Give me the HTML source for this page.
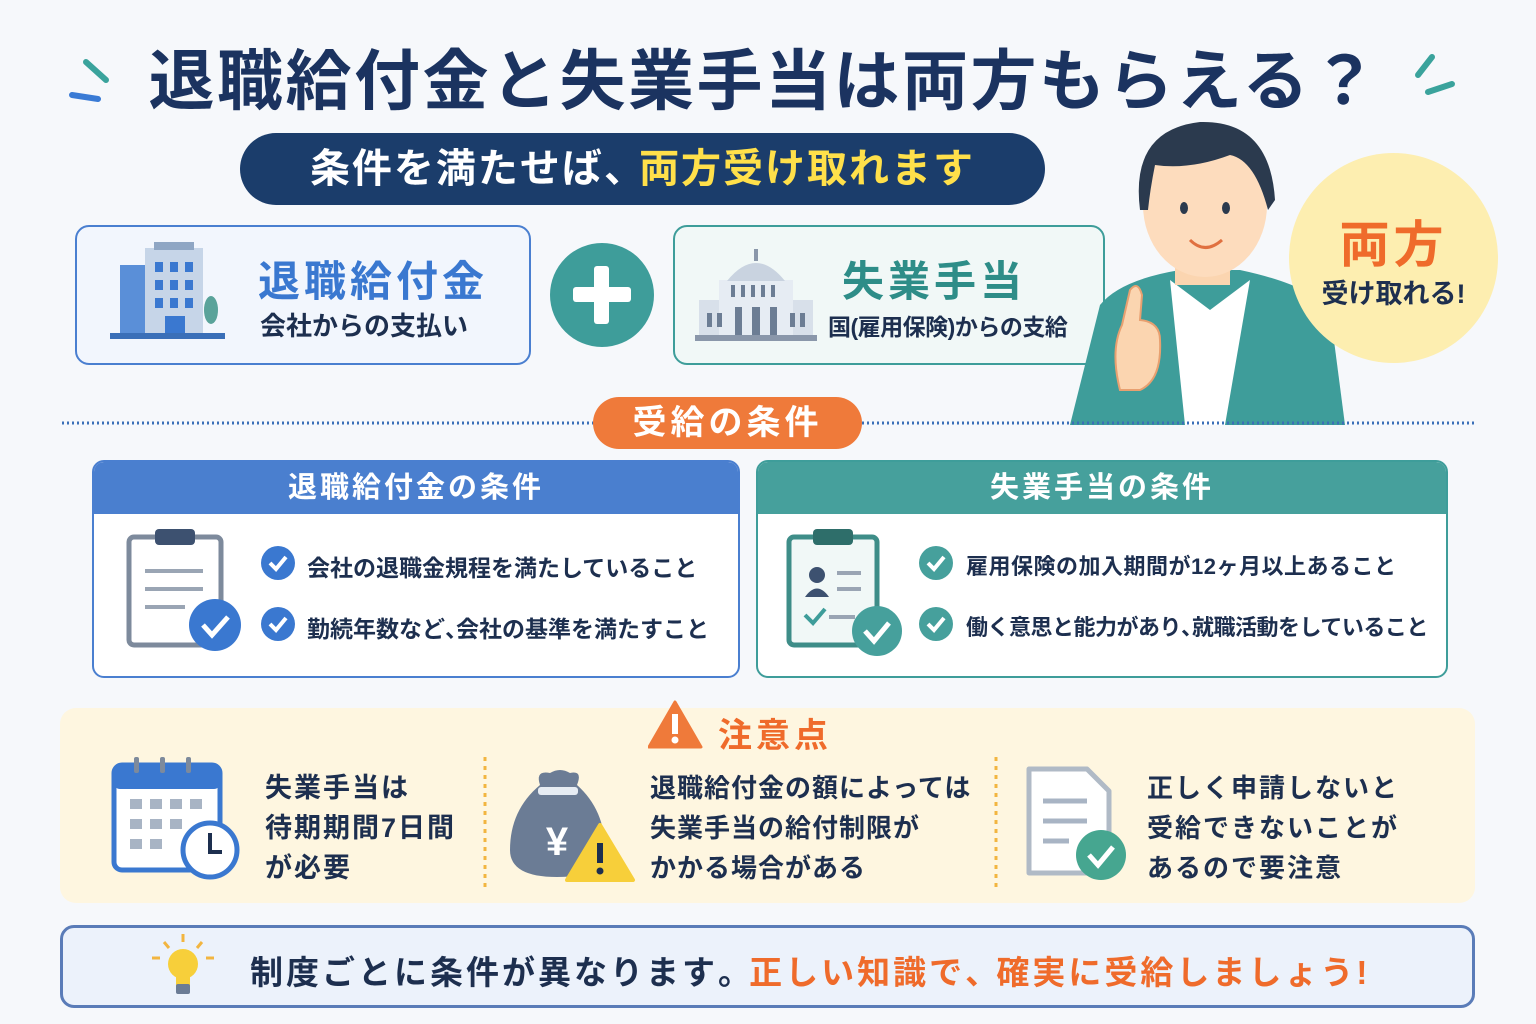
<!DOCTYPE html>
<html><head><meta charset="utf-8"><style>
*{margin:0;padding:0;box-sizing:border-box}
body{width:1536px;height:1024px;background:#f6f8fb;font-family:"Liberation Sans","Noto Sans CJK JP",sans-serif;position:relative;overflow:hidden;color:#1d2f4f}
.a{position:absolute}
.t{font-weight:bold;white-space:nowrap}
</style></head><body>
<div class="a t" style="left:-4px;width:1536px;top:28px;text-align:center;font-size:66px;color:#1b3360;letter-spacing:2.5px">退職給付金と失業手当は両方もらえる？</div>
<svg class="a" style="left:0;top:0" width="1536" height="120">
<line x1="86" y1="62" x2="106" y2="80" stroke="#3aa39c" stroke-width="6" stroke-linecap="round"/>
<line x1="72" y1="95" x2="98" y2="99" stroke="#3a7bd5" stroke-width="6" stroke-linecap="round"/>
<line x1="1418" y1="75" x2="1432" y2="57" stroke="#3aa39c" stroke-width="6" stroke-linecap="round"/>
<line x1="1428" y1="92" x2="1452" y2="84" stroke="#3aa39c" stroke-width="6" stroke-linecap="round"/>
</svg>
<div class="a t" style="left:240px;top:133px;width:805px;height:72px;border-radius:36px;background:#1b3d6b;color:#fff;font-size:40px;line-height:72px;text-align:center;letter-spacing:2px">条件を満たせば<span style="letter-spacing:-18px">、</span> <span style="color:#ffe04a">両方受け取れます</span></div>

<div class="a" style="left:75px;top:225px;width:456px;height:140px;border:2px solid #4a7fd0;border-radius:14px;background:#f2f6fd"></div>
<svg class="a" style="left:110px;top:240px" width="120" height="105">
<rect x="10" y="25" width="28" height="70" fill="#5a8fd8"/><rect x="35" y="8" width="58" height="87" fill="#c6d5e8"/><rect x="44" y="2" width="40" height="8" fill="#8fa6c4"/>
<g fill="#3a78d0"><rect x="45" y="22" width="8" height="10"/><rect x="60" y="22" width="8" height="10"/><rect x="75" y="22" width="8" height="10"/><rect x="45" y="40" width="8" height="10"/><rect x="60" y="40" width="8" height="10"/><rect x="75" y="40" width="8" height="10"/><rect x="45" y="58" width="8" height="10"/><rect x="60" y="58" width="8" height="10"/><rect x="75" y="58" width="8" height="10"/><rect x="55" y="76" width="20" height="19"/></g>
<ellipse cx="101" cy="70" rx="7" ry="14" fill="#5aa39a"/><rect x="0" y="93" width="115" height="6" fill="#3a6fb8"/></svg>
<div class="a t" style="left:258px;top:248px;font-size:42px;color:#3a78d0;letter-spacing:4px">退職給付金</div>
<div class="a t" style="left:260px;top:306px;font-size:26px;color:#1d2f4f">会社からの支払い</div>

<div class="a" style="left:550px;top:243px;width:104px;height:104px;border-radius:50%;background:#3e9d9a"></div>
<div class="a" style="left:573px;top:287px;width:58px;height:15px;background:#fff;border-radius:3px"></div>
<div class="a" style="left:594px;top:266px;width:15px;height:58px;background:#fff;border-radius:3px"></div>

<div class="a" style="left:673px;top:225px;width:432px;height:140px;border:2px solid #3e9d9a;border-radius:14px;background:#f1f8f7"></div>
<svg class="a" style="left:695px;top:245px" width="125" height="100">
<rect x="4" y="55" width="114" height="36" fill="#d8e0ea"/><rect x="24" y="35" width="74" height="56" fill="#e6ecf3"/>
<path d="M32 36 Q61 0 90 36Z" fill="#c9d3e0"/><rect x="59" y="4" width="4" height="12" fill="#8a97aa"/>
<g fill="#6c7d94"><rect x="36" y="40" width="4" height="12"/><rect x="46" y="40" width="4" height="12"/><rect x="56" y="40" width="4" height="12"/><rect x="66" y="40" width="4" height="12"/><rect x="76" y="40" width="4" height="12"/><rect x="12" y="68" width="5" height="14"/><rect x="22" y="68" width="5" height="14"/><rect x="95" y="68" width="5" height="14"/><rect x="105" y="68" width="5" height="14"/><rect x="40" y="62" width="7" height="28"/><rect x="57" y="62" width="8" height="28"/><rect x="75" y="62" width="7" height="28"/></g>
<rect x="0" y="90" width="122" height="6" fill="#8a97aa"/></svg>
<div class="a t" style="left:842px;top:248px;font-size:42px;color:#2e8d88;letter-spacing:4px">失業手当</div>
<div class="a t" style="left:828px;top:308px;font-size:23px;color:#1d2f4f;letter-spacing:-0.5px">国(雇用保険)からの支給</div>

<svg class="a" style="left:1060px;top:110px" width="300" height="320">
<path d="M10 315 L40 195 Q60 170 120 160 L180 160 Q250 175 270 200 L285 315Z" fill="#3e9d9a"/>
<path d="M110 170 L150 200 L190 170 L165 315 L125 315Z" fill="#fff"/>
<rect x="115" y="125" width="55" height="50" fill="#fbd5b0"/>
<ellipse cx="145" cy="95" rx="62" ry="72" fill="#fddcbd"/>
<path d="M80 100 Q70 20 140 12 Q210 10 215 90 L208 100 Q195 50 170 45 Q130 60 95 55 Q90 80 88 100Z" fill="#2b3a4e"/>
<ellipse cx="124" cy="98" rx="4" ry="6" fill="#2b3a4e"/><ellipse cx="166" cy="98" rx="4" ry="6" fill="#2b3a4e"/>
<path d="M130 130 Q145 145 162 130" stroke="#e07040" stroke-width="3" fill="none"/>
<path d="M60 280 Q50 240 62 215 L70 180 Q78 170 82 185 L80 210 Q100 212 100 230 Q102 270 80 280Z" fill="#fbd5b0" stroke="#e8a070" stroke-width="2"/>
</svg>

<div class="a" style="left:1289px;top:153px;width:209px;height:210px;border-radius:50%;background:#fdeeb0"></div>
<div class="a t" style="left:1289px;width:209px;top:205px;text-align:center;font-size:50px;color:#ef6b2b;letter-spacing:4px">両方</div>
<div class="a t" style="left:1289px;width:209px;top:272px;text-align:center;font-size:27px;color:#1d2f4f;letter-spacing:0px">受け取れる!</div>

<svg class="a" style="left:0;top:418px" width="1536" height="10"><line x1="62" y1="5" x2="1475" y2="5" stroke="#3a6fb8" stroke-width="3" stroke-dasharray="2 3"/></svg>
<div class="a t" style="left:593px;top:397px;width:269px;height:52px;border-radius:26px;background:#ef7a3a;color:#fff;font-size:34px;line-height:52px;text-align:center;letter-spacing:4px">受給の条件</div>

<div class="a" style="left:92px;top:460px;width:648px;height:218px;border:2px solid #4a7fd0;border-radius:12px;background:#fff;overflow:hidden">
<div style="height:52px;background:#4a7fcf;color:#fff;font-size:29px;font-weight:bold;text-align:center;line-height:52px;letter-spacing:3px">退職給付金の条件</div></div>
<svg class="a" style="left:125px;top:525px" width="120" height="130">
<rect x="4" y="12" width="92" height="108" rx="5" fill="#fff" stroke="#7d8a9c" stroke-width="5"/>
<rect x="30" y="4" width="40" height="16" rx="4" fill="#3d5170"/>
<g stroke="#9aa5b4" stroke-width="4"><line x1="20" y1="46" x2="78" y2="46"/><line x1="20" y1="64" x2="78" y2="64"/><line x1="20" y1="82" x2="60" y2="82"/></g>
<circle cx="90" cy="100" r="26" fill="#3a78d0"/><path d="M78 100 L87 110 L103 92" stroke="#fff" stroke-width="5" fill="none"/></svg>
<svg class="a" style="left:260px;top:545px" width="40" height="100"><circle cx="18" cy="18" r="17" fill="#3a78d0"/><path d="M10 18 L16 24 L26 12" stroke="#fff" stroke-width="4" fill="none"/><circle cx="18" cy="79" r="17" fill="#3a78d0"/><path d="M10 79 L16 85 L26 73" stroke="#fff" stroke-width="4" fill="none"/></svg>
<div class="a t" style="left:307px;top:549px;font-size:23px;letter-spacing:0px">会社の退職金規程を満たしていること</div>
<div class="a t" style="left:307px;top:610px;font-size:23px;letter-spacing:0px">勤続年数など<span style="letter-spacing:-12px">、</span>会社の基準を満たすこと</div>

<div class="a" style="left:756px;top:460px;width:692px;height:218px;border:2px solid #3e9d9a;border-radius:12px;background:#fff;overflow:hidden">
<div style="height:52px;background:#46a09c;color:#fff;font-size:29px;font-weight:bold;text-align:center;line-height:52px;letter-spacing:3px">失業手当の条件</div></div>
<svg class="a" style="left:785px;top:525px" width="120" height="135">
<rect x="4" y="12" width="88" height="108" rx="5" fill="#f1f8f7" stroke="#3e8d88" stroke-width="5"/>
<rect x="28" y="4" width="40" height="16" rx="4" fill="#2e6e6a"/>
<circle cx="32" cy="50" r="8" fill="#3d5170"/><path d="M20 72 Q32 55 44 72Z" fill="#3d5170"/>
<g stroke="#9aa5b4" stroke-width="4"><line x1="52" y1="48" x2="76" y2="48"/><line x1="52" y1="64" x2="76" y2="64"/><line x1="44" y1="92" x2="70" y2="92"/></g>
<path d="M20 90 L28 98 L40 84" stroke="#3e9d9a" stroke-width="4" fill="none"/>
<circle cx="92" cy="106" r="25" fill="#46a09c"/><path d="M80 106 L89 116 L104 98" stroke="#fff" stroke-width="5" fill="none"/></svg>
<svg class="a" style="left:918px;top:545px" width="40" height="100"><circle cx="18" cy="18" r="17" fill="#46a09c"/><path d="M10 18 L16 24 L26 12" stroke="#fff" stroke-width="4" fill="none"/><circle cx="18" cy="79" r="17" fill="#46a09c"/><path d="M10 79 L16 85 L26 73" stroke="#fff" stroke-width="4" fill="none"/></svg>
<div class="a t" style="left:966px;top:549px;font-size:22px;letter-spacing:0.5px">雇用保険の加入期間が12ヶ月以上あること</div>
<div class="a t" style="left:966px;top:610px;font-size:22px;letter-spacing:-0.5px">働く意思と能力があり<span style="letter-spacing:-11px">、</span>就職活動をしていること</div>

<div class="a" style="left:60px;top:708px;width:1415px;height:195px;border-radius:16px;background:#fef6e0"></div>
<svg class="a" style="left:648px;top:700px" width="56" height="50"><path d="M27 2 L53 47 L1 47Z" fill="#ef7a3a" stroke="#ef7a3a" stroke-width="3" stroke-linejoin="round"/><rect x="24" y="14" width="6" height="20" fill="#fff"/><circle cx="27" cy="40" r="3.5" fill="#fff"/></svg>
<div class="a t" style="left:718px;top:708px;font-size:34px;color:#ef6b2b;letter-spacing:4px">注意点</div>
<svg class="a" style="left:0;top:755px" width="1536" height="140"><line x1="485" y1="2" x2="485" y2="135" stroke="#f2b540" stroke-width="3" stroke-dasharray="4 5"/><line x1="996" y1="2" x2="996" y2="135" stroke="#f2b540" stroke-width="3" stroke-dasharray="4 5"/></svg>
<svg class="a" style="left:110px;top:755px" width="135" height="130">
<rect x="4" y="10" width="106" height="105" rx="8" fill="#fff" stroke="#3a78d0" stroke-width="5"/><rect x="4" y="10" width="106" height="24" rx="6" fill="#3a78d0"/>
<g fill="#a8b4c4"><rect x="20" y="44" width="12" height="10"/><rect x="40" y="44" width="12" height="10"/><rect x="60" y="44" width="12" height="10"/><rect x="80" y="44" width="12" height="10"/><rect x="20" y="64" width="12" height="10"/><rect x="40" y="64" width="12" height="10"/><rect x="60" y="64" width="12" height="10"/><rect x="20" y="84" width="12" height="10"/><rect x="40" y="84" width="12" height="10"/></g>
<g fill="#7d8a9c"><rect x="24" y="2" width="5" height="16" rx="2"/><rect x="50" y="2" width="5" height="16" rx="2"/><rect x="76" y="2" width="5" height="16" rx="2"/></g>
<circle cx="100" cy="95" r="27" fill="#fff" stroke="#3a78d0" stroke-width="5"/><path d="M100 78 L100 97 L112 97" stroke="#1d2f4f" stroke-width="4" fill="none"/></svg>
<div class="a t" style="left:265px;top:768px;font-size:27px;line-height:40px;letter-spacing:2px">失業手当は<br>待期期間7日間<br>が必要</div>
<svg class="a" style="left:505px;top:765px" width="135" height="120">
<path d="M35 20 Q30 5 45 8 Q55 2 65 8 Q78 5 72 20 Q100 45 100 85 Q100 112 52 112 Q5 112 5 85 Q5 45 35 20Z" fill="#6b7c95"/><rect x="33" y="22" width="40" height="8" rx="3" fill="#e6ecf3"/>
<text x="52" y="90" font-size="40" font-weight="bold" fill="#fff" text-anchor="middle" font-family="Liberation Sans">¥</text>
<path d="M95 60 L128 115 L62 115Z" fill="#f7cf3a" stroke="#f7cf3a" stroke-width="4" stroke-linejoin="round"/><rect x="92" y="78" width="6" height="20" fill="#1d2f4f"/><circle cx="95" cy="106" r="3.5" fill="#1d2f4f"/></svg>
<div class="a t" style="left:650px;top:768px;font-size:26px;line-height:40px;letter-spacing:1px">退職給付金の額によっては<br>失業手当の給付制限が<br>かかる場合がある</div>
<svg class="a" style="left:1025px;top:765px" width="110" height="120">
<path d="M4 4 L62 4 L84 26 L84 108 L4 108Z" fill="#fff" stroke="#b0bac6" stroke-width="5" stroke-linejoin="round"/>
<g stroke="#a8b4c4" stroke-width="5"><line x1="18" y1="36" x2="62" y2="36"/><line x1="18" y1="56" x2="62" y2="56"/><line x1="18" y1="76" x2="44" y2="76"/></g>
<circle cx="76" cy="90" r="25" fill="#46a690"/><path d="M64 90 L73 100 L88 82" stroke="#fff" stroke-width="5" fill="none"/></svg>
<div class="a t" style="left:1147px;top:768px;font-size:26px;line-height:40px;letter-spacing:2px">正しく申請しないと<br>受給できないことが<br>あるので要注意</div>

<div class="a" style="left:60px;top:925px;width:1415px;height:83px;border:3px solid #5a7cb8;border-radius:14px;background:#ecf2fb"></div>
<svg class="a" style="left:148px;top:932px" width="70" height="70">
<g stroke="#f2b540" stroke-width="3"><line x1="35" y1="2" x2="35" y2="10"/><line x1="16" y1="10" x2="21" y2="16"/><line x1="54" y1="10" x2="49" y2="16"/><line x1="4" y1="26" x2="12" y2="26"/><line x1="58" y1="26" x2="66" y2="26"/></g>
<circle cx="35" cy="32" r="15" fill="#f7cf3a"/><rect x="28" y="42" width="14" height="12" fill="#f7cf3a"/><rect x="28" y="52" width="14" height="10" rx="2" fill="#6b7c95"/></svg>
<div class="a t" style="left:250px;top:946px;font-size:33px;letter-spacing:3px">制度ごとに条件が異なります<span style="letter-spacing:-14px">。</span> <span style="color:#ef6b2b">正しい知識で<span style="letter-spacing:-14px">、</span> 確実に受給しましょう!</span></div>
</body></html>
